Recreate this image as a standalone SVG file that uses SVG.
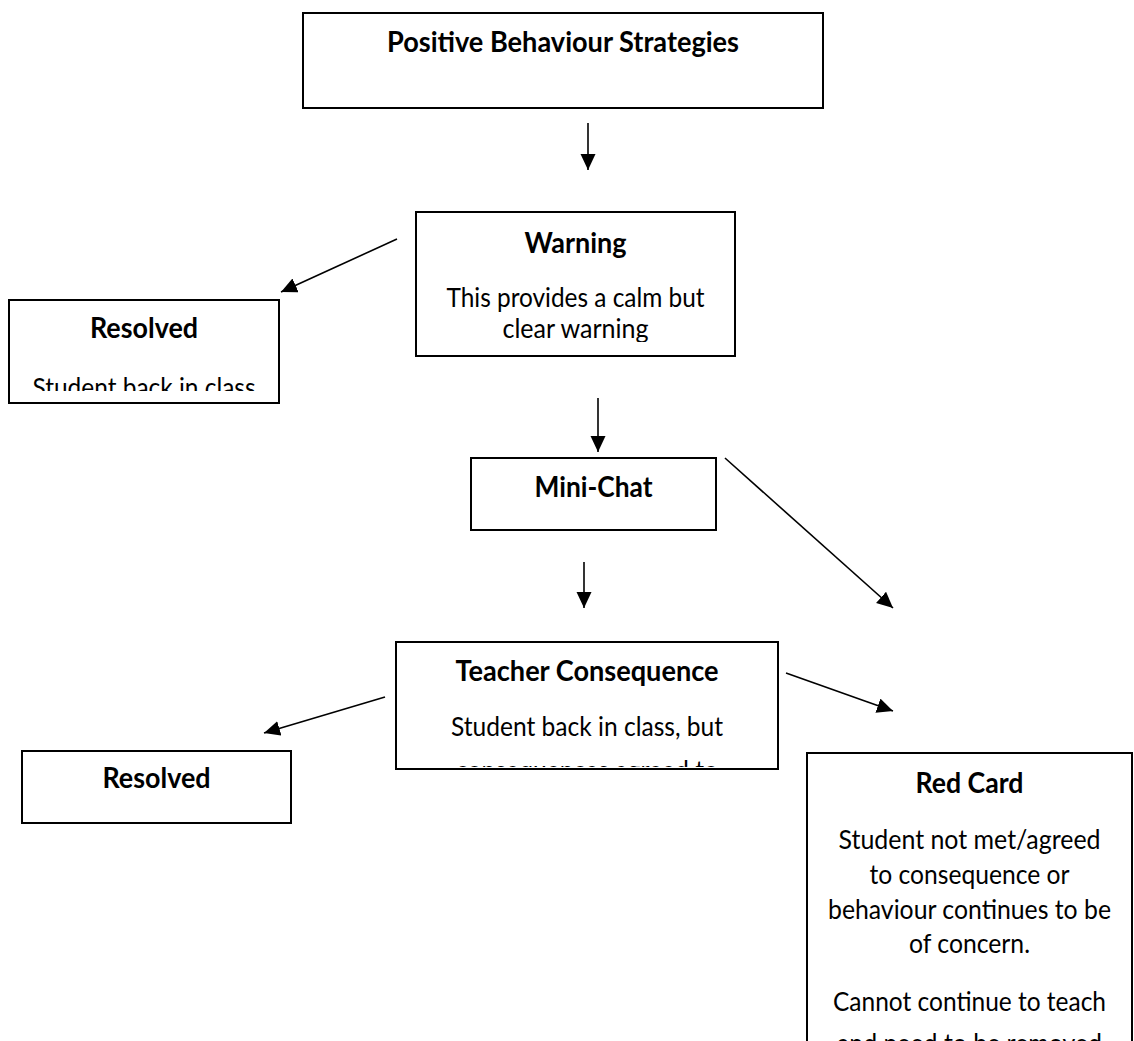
<svg xmlns="http://www.w3.org/2000/svg" width="1134" height="1041" viewBox="0 0 1134 1041">
<style>
  .box { fill: #ffffff; stroke: #000000; stroke-width: 2; }
  .h { font-family: Lato, "Liberation Sans", sans-serif; font-weight: bold; font-size: 29px; fill: #000; text-anchor: middle; }
  .t { font-family: Lato, "Liberation Sans", sans-serif; font-size: 26.5px; fill: #000; text-anchor: middle; }
  .conn line { stroke: #000000; stroke-width: 1.6; marker-end: url(#ah); }
</style>
<defs>
  <marker id="ah" markerUnits="userSpaceOnUse" markerWidth="17" markerHeight="16" refX="16" refY="7.5" orient="auto">
    <path d="M0,0 L16,7.5 L0,15 z" fill="#000"/>
  </marker>
  <clipPath id="cResolved1"><rect x="9" y="300" width="270" height="91"/></clipPath>
  <clipPath id="cWarning"><rect x="416" y="212" width="319" height="130"/></clipPath>
  <clipPath id="cTeacher"><rect x="396" y="642" width="382" height="125"/></clipPath>
  <clipPath id="cRed"><rect x="807" y="753" width="325" height="300"/></clipPath>
</defs>
<rect width="1134" height="1041" fill="#ffffff"/>

<g id="positive-behaviour-strategies">
  <rect class="box" x="303" y="13" width="520" height="95"/>
  <text class="h" x="563" y="52" textLength="352" lengthAdjust="spacingAndGlyphs">Positive Behaviour Strategies</text>
</g>

<g id="warning">
  <rect class="box" x="416" y="212" width="319" height="144"/>
  <g clip-path="url(#cWarning)">
    <text class="h" x="575.5" y="253" textLength="102" lengthAdjust="spacingAndGlyphs">Warning</text>
    <text class="t" x="575.5" y="307" textLength="258" lengthAdjust="spacingAndGlyphs">This provides a calm but</text>
    <text class="t" x="575.5" y="338" textLength="146" lengthAdjust="spacingAndGlyphs">clear warning</text>
  </g>
</g>

<g id="resolved-1">
  <rect class="box" x="9" y="300" width="270" height="103"/>
  <g clip-path="url(#cResolved1)">
    <text class="h" x="144" y="338" textLength="108" lengthAdjust="spacingAndGlyphs">Resolved</text>
    <text class="t" x="144" y="397" textLength="223" lengthAdjust="spacingAndGlyphs">Student back in class</text>
  </g>
</g>

<g id="mini-chat">
  <rect class="box" x="471" y="458" width="245" height="72"/>
  <text class="h" x="593.5" y="497" textLength="118" lengthAdjust="spacingAndGlyphs">Mini-Chat</text>
</g>

<g id="teacher-consequence">
  <rect class="box" x="396" y="642" width="382" height="127"/>
  <g clip-path="url(#cTeacher)">
    <text class="h" x="587" y="681" textLength="263" lengthAdjust="spacingAndGlyphs">Teacher Consequence</text>
    <text class="t" x="587" y="736" textLength="272" lengthAdjust="spacingAndGlyphs">Student back in class, but</text>
    <text class="t" x="587" y="780" textLength="262" lengthAdjust="spacingAndGlyphs">consequences agreed to</text>
  </g>
</g>

<g id="resolved-2">
  <rect class="box" x="22" y="751" width="269" height="72"/>
  <text class="h" x="156.5" y="788" textLength="108" lengthAdjust="spacingAndGlyphs">Resolved</text>
</g>

<g id="red-card">
  <rect class="box" x="807" y="753" width="325" height="340"/>
  <g clip-path="url(#cRed)">
    <text class="h" x="969.5" y="793" textLength="108" lengthAdjust="spacingAndGlyphs">Red Card</text>
    <text class="t" x="969.5" y="849" textLength="262" lengthAdjust="spacingAndGlyphs">Student not met/agreed</text>
    <text class="t" x="969.5" y="884" textLength="200" lengthAdjust="spacingAndGlyphs">to consequence or</text>
    <text class="t" x="969.5" y="919" textLength="283" lengthAdjust="spacingAndGlyphs">behaviour continues to be</text>
    <text class="t" x="969.5" y="953" textLength="121" lengthAdjust="spacingAndGlyphs">of concern.</text>
    <text class="t" x="969.5" y="1011" textLength="273" lengthAdjust="spacingAndGlyphs">Cannot continue to teach</text>
    <text class="t" x="969.5" y="1053" textLength="265" lengthAdjust="spacingAndGlyphs">and need to be removed</text>
  </g>
</g>

<g id="connectors" class="conn">
  <line x1="588" y1="123" x2="588" y2="170"/>
  <line x1="397" y1="239" x2="281" y2="292"/>
  <line x1="598" y1="398" x2="598" y2="452"/>
  <line x1="725" y1="458" x2="893" y2="608"/>
  <line x1="584" y1="562" x2="584" y2="608"/>
  <line x1="385" y1="697" x2="264" y2="733"/>
  <line x1="786" y1="673" x2="893" y2="711"/>
</g>
</svg>
